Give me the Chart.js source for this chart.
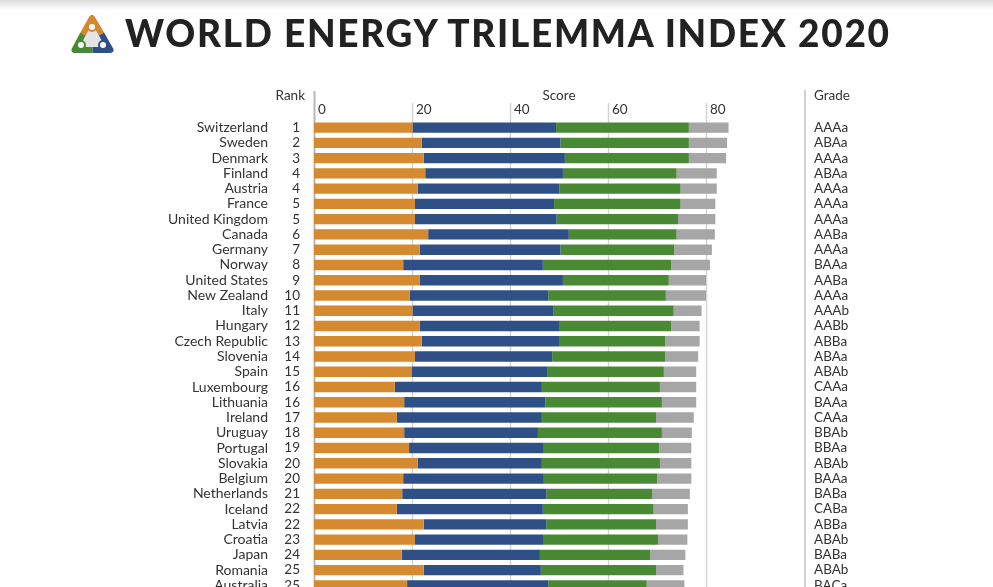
<!DOCTYPE html>
<html>
<head>
<meta charset="utf-8">
<script src="https://cdn.jsdelivr.net/npm/chart.js@4.4.1/dist/chart.umd.min.js"></script>
<style>
  html, body { margin: 0; padding: 0; background: #fff; overflow: hidden; }
  #page { position: relative; width: 993px; height: 587px; overflow: hidden; }
  #shade { position: absolute; left: 0; top: 0; width: 993px; height: 10px; background: linear-gradient(#dcdcdc, #ffffff); }
  #chart { position: absolute; left: 0; top: 0; }
  #title { position: absolute; left: 125px; top: 14px; font: 900 37px Lato; line-height: 37px; color: #222; white-space: nowrap; }
  #logo { position: absolute; left: 70px; top: 12px; }
</style>
</head>
<body>
<div id="page">
  <div id="shade"></div>
  <canvas id="chart" width="993" height="648"></canvas>
  <svg id="logo" width="46" height="44" viewBox="0 0 46 44">
    <polygon points="22,9 8,36 37,36" fill="#e4e4e4"/>
    <path d="M13,22 L22,6 L31.5,22" fill="none" stroke="#d6862c" stroke-width="6" stroke-linejoin="round"/>
    <path d="M13,22 L4.5,38 L22.5,38" fill="none" stroke="#4a8a34" stroke-width="6" stroke-linejoin="round"/>
    <path d="M31.5,22 L40.5,38 L22.5,38" fill="none" stroke="#2f4f87" stroke-width="6" stroke-linejoin="round"/>
    <circle cx="22" cy="15" r="4" fill="#fff" stroke="#d6862c" stroke-width="2"/>
    <circle cx="11" cy="33" r="4" fill="#fff" stroke="#4a8a34" stroke-width="2"/>
    <circle cx="33" cy="33" r="4" fill="#fff" stroke="#2f4f87" stroke-width="2"/>
  </svg>
  <div id="title">WORLD ENERGY TRILEMMA INDEX 2020</div>
</div>
<script>
// values (segment lengths of each stacked bar)
const countries = ['Switzerland', 'Sweden', 'Denmark', 'Finland', 'Austria', 'France', 'United Kingdom',
  'Canada', 'Germany', 'Norway', 'United States', 'New Zealand', 'Italy', 'Hungary', 'Czech Republic',
  'Slovenia', 'Spain', 'Luxembourg', 'Lithuania', 'Ireland', 'Uruguay', 'Portugal', 'Slovakia',
  'Belgium', 'Netherlands', 'Iceland', 'Latvia', 'Croatia', 'Japan', 'Romania', 'Australia'];
const ranks = [1, 2, 3, 4, 4, 5, 5, 6, 7, 8, 9, 10, 11, 12, 13, 14, 15, 16, 16, 17, 18, 19, 20, 20, 21, 22, 22, 23, 24, 25, 25];
const grades = ['AAAa', 'ABAa', 'AAAa', 'ABAa', 'AAAa', 'AAAa', 'AAAa', 'AABa', 'AAAa', 'BAAa', 'AABa',
  'AAAa', 'AAAb', 'AABb', 'ABBa', 'ABAa', 'ABAb', 'CAAa', 'BAAa', 'CAAa', 'BBAb', 'BBAa', 'ABAb',
  'BAAa', 'BABa', 'CABa', 'ABBa', 'ABAb', 'BABa', 'ABAb', 'BACa'];
const security = [20.1, 22.0, 22.4, 22.7, 21.2, 20.6, 20.6, 23.3, 21.6, 18.2, 21.6, 19.5, 20.1, 21.6, 22.0,
  20.6, 20.0, 16.5, 18.4, 16.9, 18.4, 19.4, 21.2, 18.2, 18.0, 16.9, 22.4, 20.6, 17.9, 22.4, 19.0];
const equity = [29.3, 28.3, 28.8, 28.1, 28.9, 28.4, 28.9, 28.7, 28.7, 28.5, 29.2, 28.3, 28.7, 28.4, 28.0,
  28.0, 27.7, 30.0, 28.8, 29.6, 27.3, 27.5, 25.3, 28.7, 29.4, 29.8, 25.0, 26.3, 28.2, 23.9, 28.8];
const sustainability = [27.1, 26.2, 25.3, 23.2, 24.7, 25.8, 24.8, 22.0, 23.2, 26.2, 21.6, 24.0, 24.6, 22.9, 21.7,
  23.1, 23.7, 24.1, 23.8, 23.3, 25.3, 23.5, 24.1, 23.1, 21.6, 22.6, 22.4, 23.3, 22.5, 23.5, 20.1];
const context = [8.1, 7.8, 7.6, 8.2, 7.4, 7.1, 7.6, 7.8, 7.7, 7.9, 7.6, 8.2, 5.7, 5.8, 7.0,
  6.7, 6.6, 7.4, 7.0, 7.7, 6.1, 6.6, 6.4, 7.0, 7.7, 7.0, 6.5, 6.0, 7.2, 5.6, 7.7];
const scoreTicks = [0, 20, 40, 60, 80];

const textColor = '#333333';

// fit the title to the width it has in the picture
const title = document.getElementById('title');
const mctx = document.createElement('canvas').getContext('2d');
mctx.font = '900 37px Lato';
const natural = mctx.measureText(title.textContent).width;
title.style.letterSpacing = ((768 - natural) / (title.textContent.length - 1)) + 'px';

// gridlines, rank / grade columns and headers
const tablePlugin = {
  id: 'table',
  beforeDatasetsDraw(chart) {
    const { ctx, scales: { x } } = chart;
    const bottom = chart.height;
    ctx.save();
    scoreTicks.forEach(v => {
      const px = Math.round(x.getPixelForValue(v)) + 0.5;
      ctx.strokeStyle = v === 0 ? '#b8b8b8' : '#d4d4d4';
      ctx.lineWidth = v === 0 ? 2 : 1.5;
      ctx.beginPath();
      ctx.moveTo(px, v === 0 ? 91 : 103);
      ctx.lineTo(px, bottom);
      ctx.stroke();
    });
    ctx.strokeStyle = '#d0d0d0';
    ctx.lineWidth = 2;
    ctx.beginPath();
    ctx.moveTo(805, 90);
    ctx.lineTo(805, bottom);
    ctx.stroke();
    ctx.restore();
  },
  afterDraw(chart) {
    const { ctx, scales: { x, y } } = chart;
    ctx.save();
    ctx.font = '13.5px Lato';
    ctx.fillStyle = textColor;
    ctx.textBaseline = 'middle';

    ctx.textAlign = 'right';
    ctx.fillText('Rank', 305, 95.5);
    ctx.textAlign = 'center';
    ctx.fillText('Score', x.getPixelForValue(50), 95.5);
    ctx.textAlign = 'left';
    ctx.fillText('Grade', 814, 95.5);

    scoreTicks.forEach(v => {
      ctx.fillText(String(v), x.getPixelForValue(v) + 4, 109.5);
    });

    countries.forEach((c, i) => {
      const py = y.getPixelForValue(i);
      ctx.textAlign = 'right';
      ctx.fillText(String(ranks[i]), 300, py);
      ctx.textAlign = 'left';
      ctx.fillText(grades[i], 814, py);
    });
    ctx.restore();
  }
};

new Chart(document.getElementById('chart'), {
  type: 'bar',
  data: {
    labels: countries,
    datasets: [
      { label: 'Energy security', data: security, backgroundColor: '#d58a2f' },
      { label: 'Energy equity', data: equity, backgroundColor: '#2f4f87' },
      { label: 'Environmental sustainability', data: sustainability, backgroundColor: '#4a8934' },
      { label: 'Country context', data: context, backgroundColor: '#a6a6a6' }
    ]
  },
  options: {
    indexAxis: 'y',
    responsive: false,
    devicePixelRatio: 1,
    animation: false,
    // the y tick padding also pads the axis ends, so the bottom padding is sized to match it
    layout: { padding: { top: 120, right: 262.5, bottom: 55, left: 0 } },
    datasets: { bar: { categoryPercentage: 1, barPercentage: 0.68, borderWidth: 0 } },
    plugins: { legend: { display: false }, title: { display: false } },
    scales: {
      x: {
        stacked: true,
        min: 0,
        max: 85,
        display: false
      },
      y: {
        stacked: true,
        grid: { display: false, drawTicks: false },
        border: { display: false },
        ticks: {
          autoSkip: false,
          padding: 46,
          color: textColor,
          font: { family: 'Lato', size: 14 }
        },
        afterFit(scale) { scale.width = 314; }
      }
    }
  },
  plugins: [tablePlugin]
});
</script>
</body>
</html>
